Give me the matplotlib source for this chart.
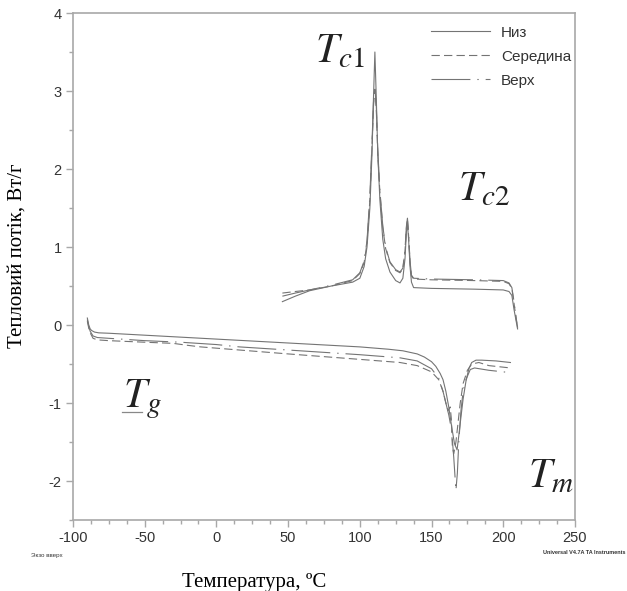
import matplotlib

matplotlib.use("Agg")

import matplotlib.pyplot as plt
from matplotlib.ticker import MultipleLocator

plt.rcParams["mathtext.fontset"] = "stix"
plt.rcParams["lines.scale_dashes"] = False
plt.rcParams["axes.unicode_minus"] = False

SANS = ["Liberation Sans", "DejaVu Sans"]
SERIF = ["Liberation Serif", "DejaVu Serif"]

# heating run (lower curves)
HEAT_T_NYZ = [-90, -89, -88, -87, -85, -82, -75, -60, -40, -20, 0, 20, 50, 80, 100, 120,
              130, 140, 145, 150, 153, 156, 158, 160, 162, 164, 166, 167.8, 169, 170.5,
              172, 174, 176, 178, 181, 185, 195, 205]
HEAT_NYZ = [0.09, 0.0, -0.05, -0.07, -0.09, -0.10, -0.105, -0.12, -0.14, -0.16, -0.18, -0.20,
            -0.23, -0.26, -0.28, -0.31, -0.33, -0.37, -0.41, -0.47, -0.53, -0.62, -0.70,
            -0.85, -1.05, -1.30, -1.52, -1.60, -1.42, -1.18, -0.95, -0.72, -0.56, -0.48,
            -0.45, -0.45, -0.46, -0.48]

HEAT_T_SER = [-90, -89, -88, -86, -83, -75, -50, -30, -20, -11, 16, 50, 100, 128, 140, 150,
              155, 158, 160, 161.5, 163, 163.8, 164.5, 165.5, 167, 168.5, 170, 172, 175,
              178, 183, 190, 205]
HEAT_SER = [0.05, -0.04, -0.10, -0.17, -0.19, -0.20, -0.22, -0.235, -0.26, -0.28, -0.32, -0.37,
            -0.44, -0.48, -0.52, -0.60, -0.70, -0.85, -1.00, -1.10, -1.05, -1.20, -1.55,
            -1.65, -1.50, -1.25, -1.00, -0.75, -0.58, -0.50, -0.48, -0.52, -0.55]

HEAT_T_VER = [-90, -89, -88, -86, -83, -75, -50, -25, 0, 16, 50, 100, 128, 140, 150, 155,
              158, 160, 162, 164, 165.5, 167, 168, 169, 170.5, 172, 174, 177, 180, 190, 205]
HEAT_VER = [0.07, -0.02, -0.08, -0.14, -0.16, -0.17, -0.20, -0.22, -0.25, -0.28, -0.32, -0.38,
            -0.42, -0.46, -0.56, -0.68, -0.85, -1.00, -1.15, -1.35, -1.70, -2.12, -1.90,
            -1.50, -1.10, -0.85, -0.70, -0.57, -0.55, -0.58, -0.61]

# cooling run (upper curves)
COOL_T = [46, 55, 65, 80, 95, 100, 103, 105, 107, 108.5, 109.5, 110.5, 111.5, 112.5, 114,
          116, 118, 121, 125, 128, 130, 131.5, 132.5, 133.2, 134, 135, 136, 137.5, 150,
          180, 200, 204, 206, 207.5, 209, 210]
COOL_NYZ = [0.30, 0.37, 0.44, 0.50, 0.55, 0.60, 0.75, 1.00, 1.50, 2.20, 2.90, 3.50, 2.90,
            2.20, 1.60, 1.10, 0.85, 0.68, 0.57, 0.54, 0.60, 0.85, 1.20, 1.30, 1.10, 0.75,
            0.55, 0.48, 0.47, 0.46, 0.45, 0.43, 0.38, 0.20, 0.05, -0.05]
COOL_SER = [0.41, 0.43, 0.45, 0.50, 0.57, 0.66, 0.80, 1.05, 1.60, 2.30, 2.80, 3.02, 2.75,
            2.20, 1.70, 1.25, 0.98, 0.80, 0.70, 0.67, 0.72, 0.95, 1.25, 1.36, 1.15, 0.80,
            0.63, 0.59, 0.58, 0.57, 0.56, 0.53, 0.47, 0.28, 0.08, -0.04]
COOL_VER = [0.37, 0.41, 0.45, 0.51, 0.58, 0.67, 0.82, 1.08, 1.65, 2.35, 2.85, 3.05, 2.80,
            2.25, 1.72, 1.27, 1.00, 0.81, 0.71, 0.68, 0.73, 0.97, 1.27, 1.37, 1.17, 0.82,
            0.64, 0.60, 0.59, 0.58, 0.57, 0.54, 0.48, 0.30, 0.09, -0.03]

LABELS = ["Низ", "Середина", "Верх"]
LINE_COLOR = "#747474"
AXIS_COLOR = "#a8a8a8"
STYLES = ["-", (0, (6, 3)), (0, (28, 5, 1, 5))]

fig = plt.figure(figsize=(6.27, 5.91), dpi=100)
ax = fig.add_axes([0.1164, 0.120, 0.8006, 0.858])

heat = [(HEAT_T_NYZ, HEAT_NYZ), (HEAT_T_SER, HEAT_SER), (HEAT_T_VER, HEAT_VER)]
cool = [COOL_NYZ, COOL_SER, COOL_VER]
for (t, v), c, ls, lab in zip(heat, cool, STYLES, LABELS):
    ax.plot(t, v, color=LINE_COLOR, lw=0.8, ls=ls, label=lab)
    ax.plot(COOL_T, c, color=LINE_COLOR, lw=0.8, ls=ls)

ax.set_xlim(-100, 250)
ax.set_ylim(-2.5, 4)
ax.xaxis.set_major_locator(MultipleLocator(50))
ax.xaxis.set_minor_locator(MultipleLocator(12.5))
ax.yaxis.set_major_locator(MultipleLocator(1))
ax.yaxis.set_minor_locator(MultipleLocator(0.5))
ax.tick_params(which="both", direction="out", color=AXIS_COLOR, width=1.0,
               labelcolor="#333333", labelsize=10.5)
ax.tick_params(which="major", length=5, pad=3)
ax.tick_params(which="minor", length=3)
for lbl in ax.get_xticklabels() + ax.get_yticklabels():
    lbl.set_family(SANS)
for sp in ax.spines.values():
    sp.set_color(AXIS_COLOR)
    sp.set_linewidth(1.2)

ax.set_xlabel("Температура, ºC", family=SERIF, fontsize=15)
ax.set_ylabel("Тепловий потік, Вт/г", family=SERIF, fontsize=15)
ax.xaxis.set_label_coords(0.36, -0.105)
ax.yaxis.set_label_coords(-0.092, 0.522)

# peak annotations
ann = dict(fontsize=30, ha="left", va="baseline", color="#222222")
ax.text(68.8, 3.37, r"$T_{c1}$", **ann)
ax.text(168.5, 1.60, r"$T_{c2}$", **ann)
TG_X, TG_Y = -65.1, -1.05
ax.text(TG_X, TG_Y, r"$T_{g}$", **ann)
ax.plot([TG_X - 0.7, TG_X + 13.2], [TG_Y - 0.065, TG_Y - 0.065], color="#888888", lw=0.9)
ax.text(217.3, -2.08, r"$T_{m}$", **ann)

leg = ax.legend(loc="upper left", bbox_to_anchor=(0.713, 0.975), frameon=False,
                handlelength=3.9, handletextpad=0.7, labelspacing=0.66,
                borderpad=0, borderaxespad=0, prop={"family": SANS, "size": 11})
for txt in leg.get_texts():
    txt.set_color("#333333")

fig.text(0.05, 0.058, "Экзо вверх", family=SANS, fontsize=4.5, color="#333333", ha="left")
fig.text(0.998, 0.063, "Universal V4.7A TA Instruments", family=SANS, fontsize=4,
         color="#333333", ha="right", weight="bold")

fig.savefig("out.png", dpi=100)
